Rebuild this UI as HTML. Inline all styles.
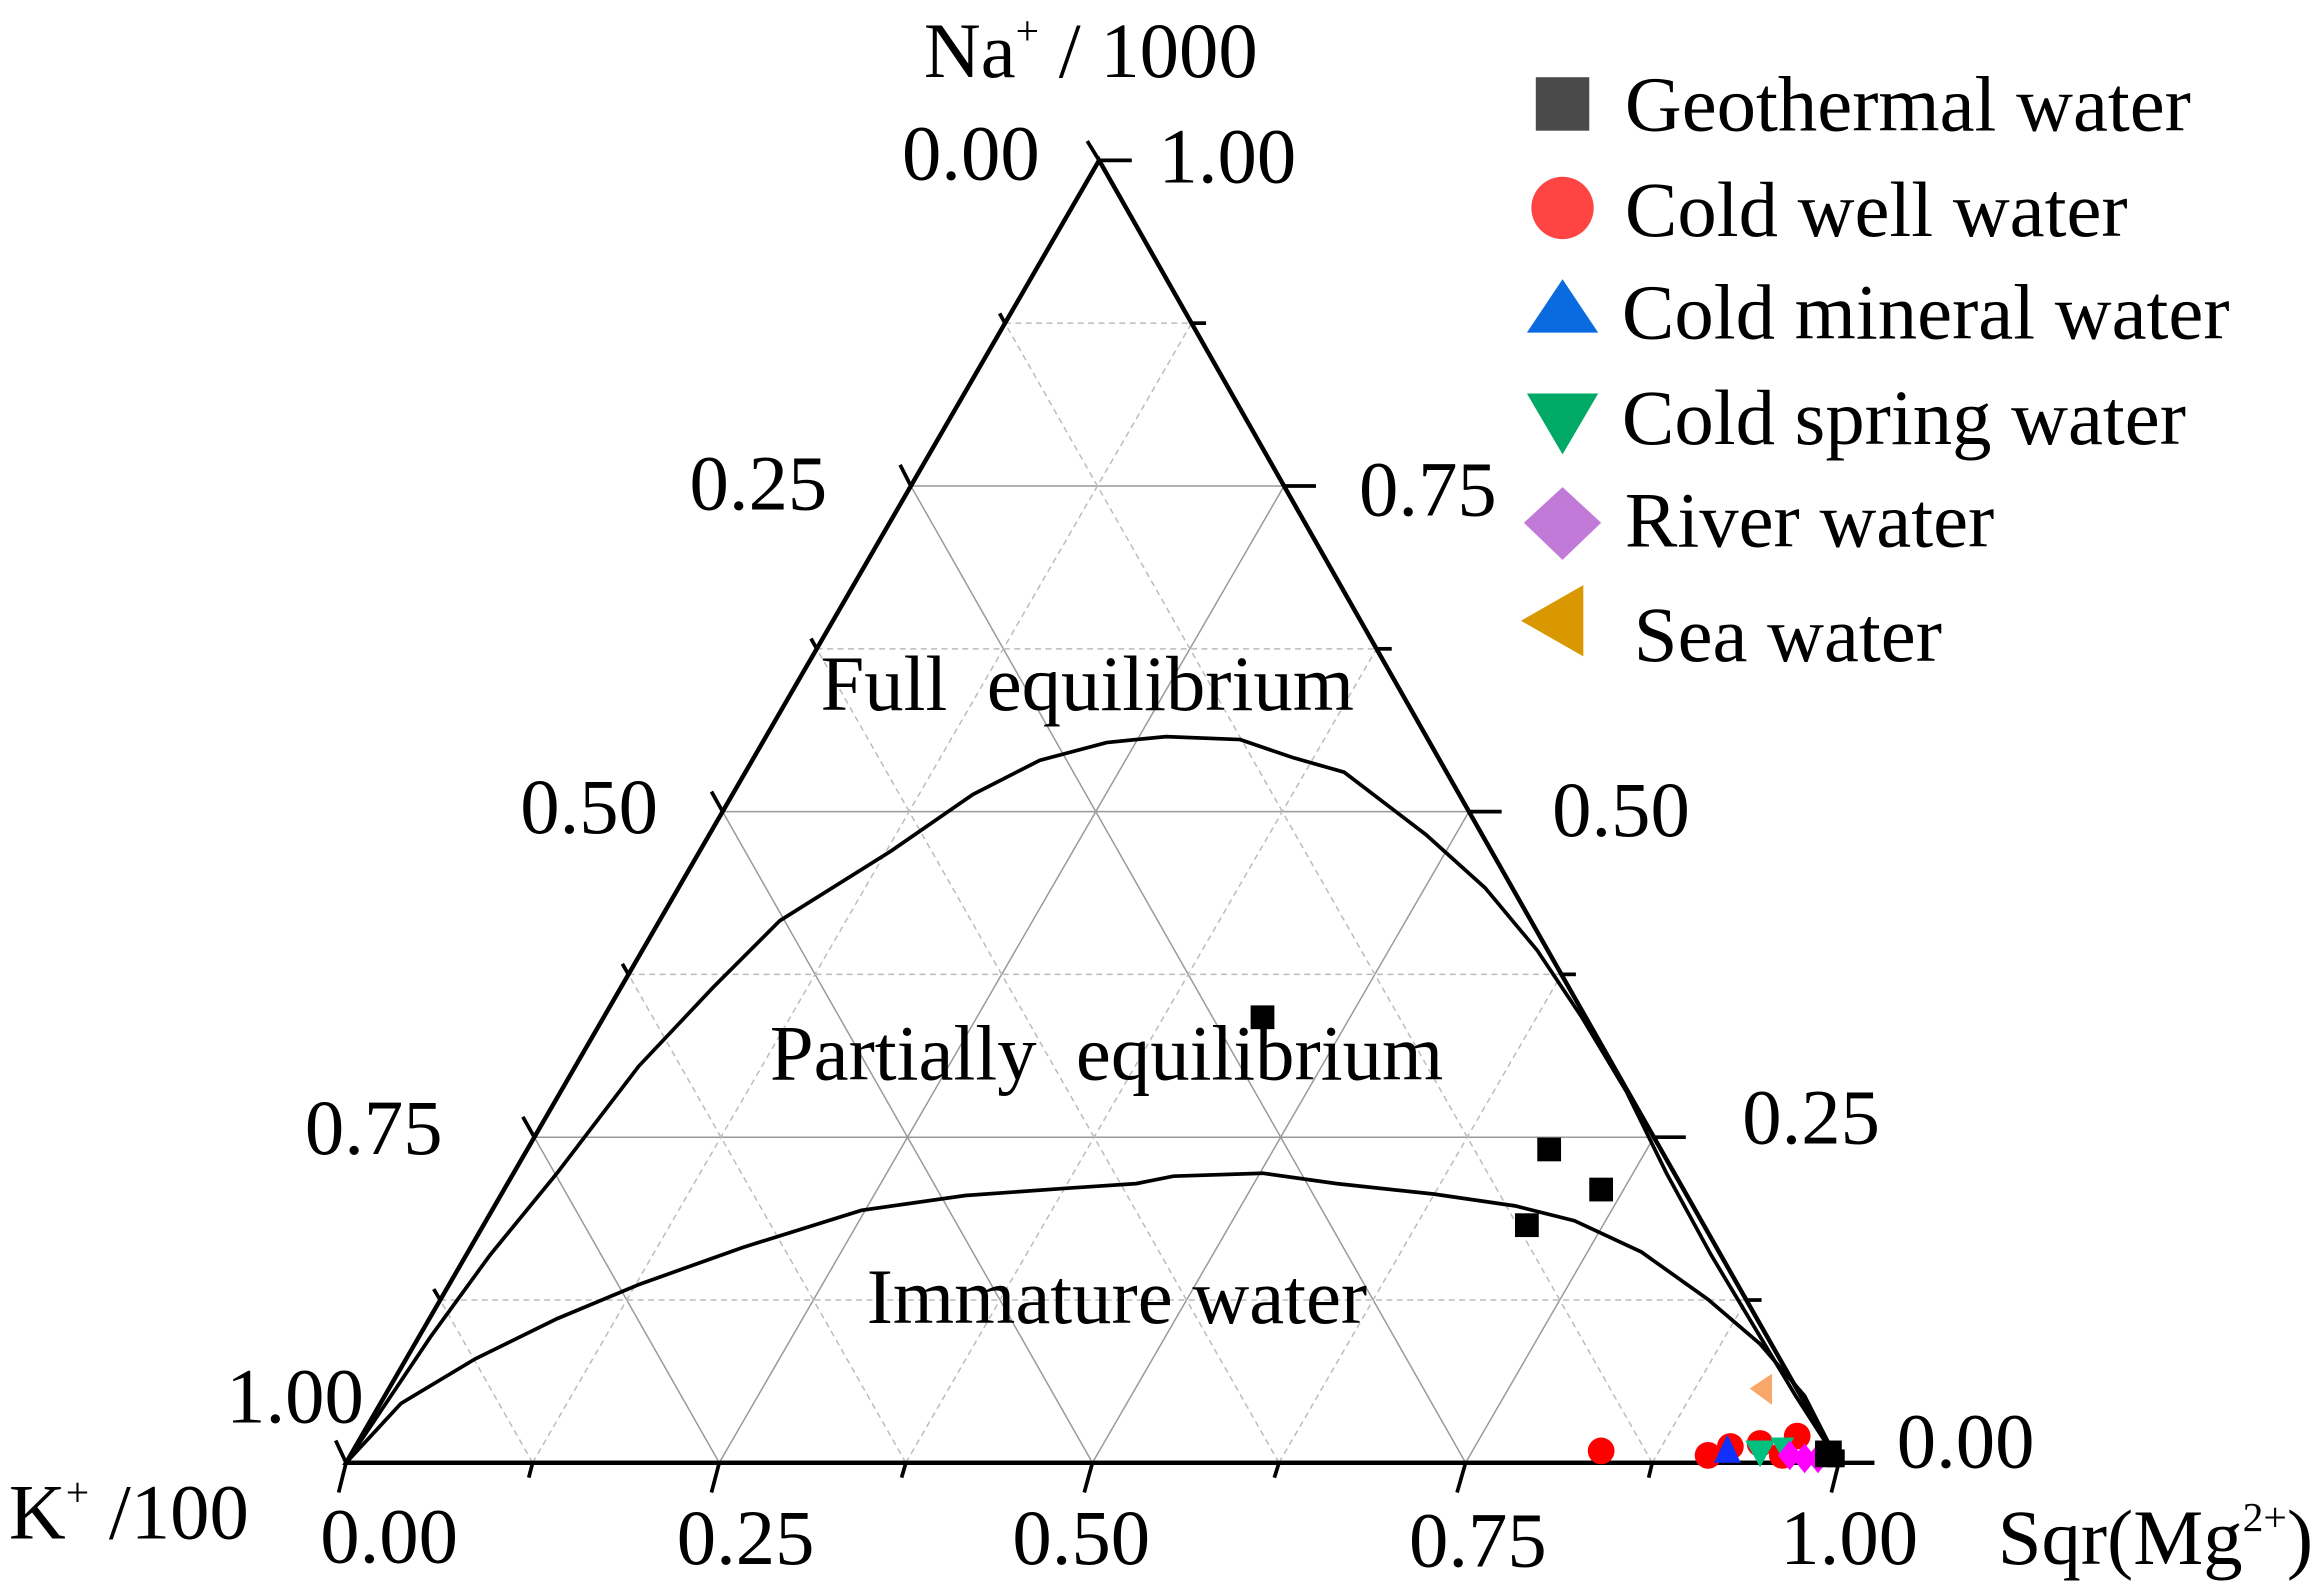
<!DOCTYPE html>
<html><head><meta charset="utf-8"><style>
html,body{margin:0;padding:0;background:#fff;}
svg{display:block;}
text{font-family:"Liberation Serif",serif;fill:#000;}
</style></head><body>
<svg width="2323" height="1592" viewBox="0 0 1564 1072" preserveAspectRatio="none" xmlns="http://www.w3.org/2000/svg">
<rect width="1564" height="1072" fill="#fff"/>
<g stroke="#999" stroke-width="1" fill="none">
<line x1="359.75" y1="765.75" x2="1113.5" y2="765.75"/>
<line x1="486.5" y1="546.5" x2="989" y2="546.5"/>
<line x1="613.25" y1="327.25" x2="864.5" y2="327.25"/>
<line x1="484.25" y1="985" x2="864.5" y2="327.25"/>
<line x1="735.5" y1="985" x2="989" y2="546.5"/>
<line x1="986.75" y1="985" x2="1113.5" y2="765.75"/>
<line x1="484.25" y1="985" x2="359.75" y2="765.75"/>
<line x1="735.5" y1="985" x2="486.5" y2="546.5"/>
<line x1="986.75" y1="985" x2="613.25" y2="327.25"/>
</g>
<g stroke="#bbb" stroke-width="1" fill="none" stroke-dasharray="4,3">
<line x1="296.4" y1="875.4" x2="1175.75" y2="875.4"/>
<line x1="423.1" y1="656.1" x2="1051.25" y2="656.1"/>
<line x1="549.9" y1="436.9" x2="926.75" y2="436.9"/>
<line x1="676.6" y1="217.6" x2="802.25" y2="217.6"/>
<line x1="358.6" y1="985" x2="802.25" y2="217.6"/>
<line x1="609.9" y1="985" x2="926.75" y2="436.9"/>
<line x1="861.1" y1="985" x2="1051.25" y2="656.1"/>
<line x1="1112.4" y1="985" x2="1175.75" y2="875.4"/>
<line x1="358.6" y1="985" x2="296.4" y2="875.4"/>
<line x1="609.9" y1="985" x2="423.1" y2="656.1"/>
<line x1="861.1" y1="985" x2="549.9" y2="436.9"/>
<line x1="1112.4" y1="985" x2="676.6" y2="217.6"/>
</g>
<g stroke="#000" fill="none" stroke-width="2.5">
<polyline points="233,985 290,900 330,845 375,790 430,718 480,665 525,620 600,573 655,535 700,512 745,500 785,496 835,498 870,510 905,520 960,562 1000,598 1035,640 1065,685 1095,735 1122,790 1152,845 1182,895 1209,940 1238,985"/>
<polyline points="233,985 270,945 320,915 375,888 430,865 500,840 580,815 650,805 720,800 765,797 790,792 850,790 900,797 965,804 1020,812 1060,822 1105,843 1150,875 1185,905 1215,940 1238,985"/>
</g>
<g stroke="#000" fill="none" stroke-width="3">
<polygon points="233,985 1238,985 740,108"/>
<line x1="233" y1="985" x2="1262" y2="985"/>
</g>
<g stroke="#000" stroke-width="2.5">
<line x1="233" y1="985" x2="228" y2="1005"/>
<line x1="484.25" y1="985" x2="479" y2="1005"/>
<line x1="735.5" y1="985" x2="730" y2="1005"/>
<line x1="986.75" y1="985" x2="981" y2="1005"/>
<line x1="1238" y1="985" x2="1233" y2="1005"/>
<line x1="358.6" y1="985" x2="356" y2="995"/>
<line x1="609.9" y1="985" x2="607" y2="995"/>
<line x1="861.1" y1="985" x2="858" y2="995"/>
<line x1="1112.4" y1="985" x2="1110" y2="995"/>
<line x1="740" y1="108" x2="732" y2="95"/>
<line x1="613.25" y1="327.25" x2="606" y2="313"/>
<line x1="486.5" y1="546.5" x2="479" y2="533"/>
<line x1="359.75" y1="765.75" x2="352" y2="752"/>
<line x1="233" y1="985" x2="226" y2="970"/>
<line x1="676.6" y1="217.6" x2="673" y2="211"/>
<line x1="549.9" y1="436.9" x2="546" y2="430"/>
<line x1="423.1" y1="656.1" x2="419" y2="649"/>
<line x1="296.4" y1="875.4" x2="292" y2="868"/>
<line x1="740" y1="108" x2="762" y2="108"/>
<line x1="864.5" y1="327.25" x2="886" y2="327.25"/>
<line x1="989" y1="546.5" x2="1011" y2="546.5"/>
<line x1="1113.5" y1="765.75" x2="1135" y2="765.75"/>
<line x1="802.25" y1="217.6" x2="812" y2="217.6"/>
<line x1="926.75" y1="436.9" x2="937" y2="436.9"/>
<line x1="1051.25" y1="656.1" x2="1061" y2="656.1"/>
<line x1="1175.75" y1="875.4" x2="1186" y2="875.4"/>
</g>
<g>
<rect x="842" y="677" width="16" height="16" fill="#000"/>
<rect x="1035" y="766" width="16" height="16" fill="#000"/>
<rect x="1070" y="793" width="16" height="16" fill="#000"/>
<rect x="1020" y="817" width="16" height="16" fill="#000"/>
<polygon points="1178,935 1193,925 1193,946" fill="#f8a868"/>
<circle cx="1078" cy="977" r="9" fill="#f00"/>
<circle cx="1150" cy="980" r="9" fill="#f00"/>
<circle cx="1165" cy="974" r="9" fill="#f00"/>
<circle cx="1185" cy="972" r="9" fill="#f00"/>
<circle cx="1210" cy="967" r="9" fill="#f00"/>
<circle cx="1200" cy="980" r="9" fill="#f00"/>
<polygon points="1163,966 1172,985 1154,985" fill="#1030ff"/>
<polygon points="1175,970 1195,970 1185,988" fill="#00c080"/>
<polygon points="1192,968 1208,968 1200,982" fill="#00c080"/>
<polygon points="1205,970 1213,980 1205,990 1197,980" fill="#f0f"/>
<polygon points="1215,972 1223,982 1215,992 1207,982" fill="#f0f"/>
<polygon points="1224,972 1232,982 1224,992 1216,982" fill="#f0f"/>
<rect x="1222" y="970" width="18" height="18" fill="#000"/>
<rect x="1230" y="976" width="12" height="12" fill="#000"/>
</g>
<rect x="1034" y="52" width="36" height="36" fill="#4a4a4a"/>
<circle cx="1052" cy="140" r="21" fill="#f44"/>
<polygon points="1052,188 1076,224 1028,224" fill="#0a6be0"/>
<polygon points="1028,265 1076,265 1052,306" fill="#00aa66"/>
<polygon points="1052,328 1078,352 1052,377 1026,352" fill="#c27ad9"/>
<polygon points="1024,418 1066,394 1066,442" fill="#d99800"/>
<g font-size="53">
<text x="1094" y="88">Geothermal water</text>
<text x="1094" y="159">Cold well water</text>
<text x="1092" y="228">Cold mineral water</text>
<text x="1092" y="299">Cold spring water</text>
<text x="1094" y="368">River water</text>
<text x="1100" y="445">Sea water</text>
<text x="622" y="52">Na<tspan font-size="28" dy="-22">+</tspan><tspan dy="22"> / 1000</tspan></text>
<text x="700" y="121" text-anchor="end">0.00</text>
<text x="780" y="123">1.00</text>
<text x="557" y="343" text-anchor="end">0.25</text>
<text x="443" y="561" text-anchor="end">0.50</text>
<text x="298" y="777" text-anchor="end">0.75</text>
<text x="245" y="958" text-anchor="end">1.00</text>
<text x="915" y="347">0.75</text>
<text x="1045" y="563">0.50</text>
<text x="1173" y="770">0.25</text>
<text x="1277" y="988">0.00</text>
<text x="262" y="1052" text-anchor="middle">0.00</text>
<text x="502" y="1053" text-anchor="middle">0.25</text>
<text x="728" y="1053" text-anchor="middle">0.50</text>
<text x="995" y="1055" text-anchor="middle">0.75</text>
<text x="1245" y="1053" text-anchor="middle">1.00</text>
<text x="6" y="1036">K<tspan font-size="28" dy="-22">+</tspan><tspan dy="22"> /100</tspan></text>
<text x="1345" y="1053">Sqr(Mg<tspan font-size="28" dy="-22">2+</tspan><tspan dy="22">)</tspan></text>
<text x="732" y="478" text-anchor="middle" xml:space="preserve">Full  equilibrium</text>
<text x="745" y="727" text-anchor="middle" xml:space="preserve">Partially  equilibrium</text>
<text x="752" y="891" text-anchor="middle">Immature water</text>
</g>
</svg>
</body></html>
